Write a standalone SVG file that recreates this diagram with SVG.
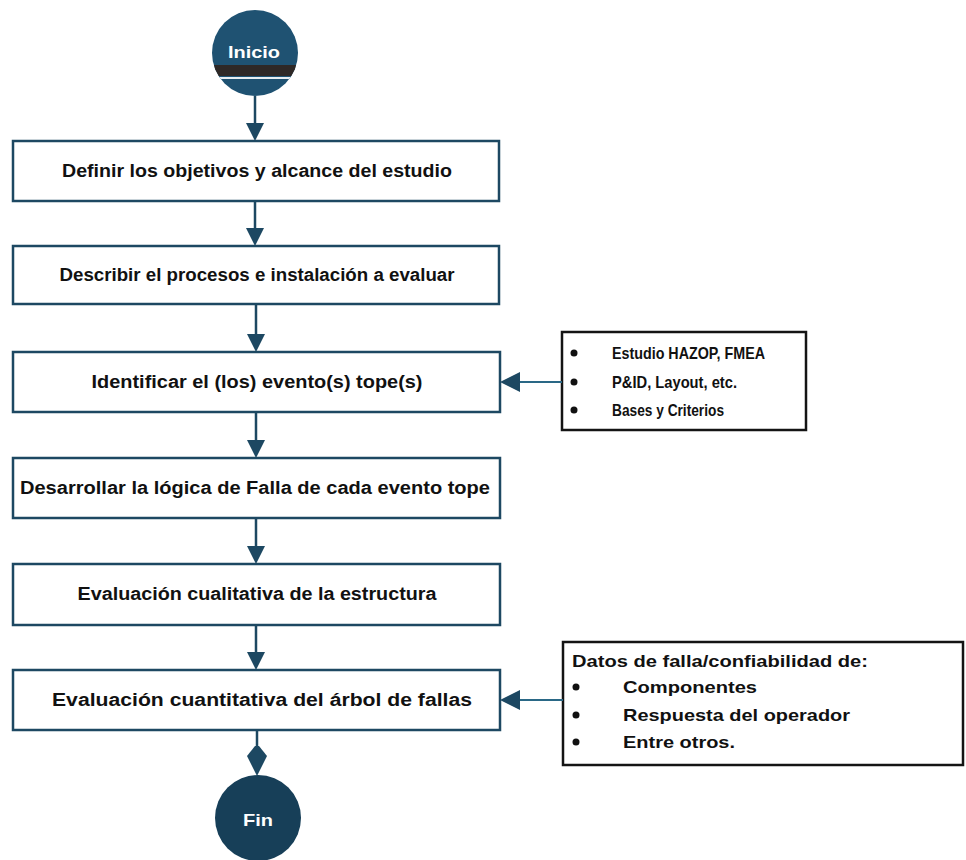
<svg xmlns="http://www.w3.org/2000/svg" width="966" height="860" viewBox="0 0 966 860">
  <style>
    .step rect { fill: #ffffff; stroke: #1d4862; stroke-width: 2.5; }
    .step text { font-family: "Liberation Sans", Arial, sans-serif; font-weight: bold; font-size: 18px; fill: #111111; text-anchor: middle; dominant-baseline: central; }
    .note rect { fill: #ffffff; stroke: #141414; stroke-width: 2.5; }
    .note text { font-family: "Liberation Sans", Arial, sans-serif; font-weight: bold; font-size: 17px; fill: #111111; dominant-baseline: central; }
    .note circle { fill: #111111; }
    .flow line { stroke: #1d4862; stroke-width: 2.5; }
    .flow .side { stroke: #2a6886; stroke-width: 2; }
    .flow polygon { fill: #1d4862; }
    .term text { font-family: "Liberation Sans", Arial, sans-serif; font-weight: bold; fill: #ffffff; text-anchor: middle; dominant-baseline: central; }
  </style>

  <rect x="0" y="0" width="966" height="860" fill="#ffffff"/>

  <!-- start terminal -->
  <g id="inicio" class="term">
    <clipPath id="inicioClip"><circle cx="255" cy="53" r="43"/></clipPath>
    <circle cx="255" cy="53" r="43" fill="#1f5272"/>
    <g clip-path="url(#inicioClip)">
      <rect x="200" y="65" width="110" height="11" fill="#2e2826"/>
      <rect x="200" y="77" width="110" height="2" fill="#e8eef2"/>
    </g>
    <text x="254" y="52" font-size="17" textLength="52" lengthAdjust="spacingAndGlyphs">Inicio</text>
  </g>

  <!-- process steps -->
  <g id="step1" class="step">
    <rect x="13" y="141" width="486" height="60"/>
    <text x="257" y="171" textLength="390" lengthAdjust="spacingAndGlyphs">Definir los objetivos y alcance del estudio</text>
  </g>
  <g id="step2" class="step">
    <rect x="13" y="246" width="486" height="58"/>
    <text x="257" y="275" textLength="395" lengthAdjust="spacingAndGlyphs">Describir el procesos e instalación a evaluar</text>
  </g>
  <g id="step3" class="step">
    <rect x="13" y="352" width="487" height="60"/>
    <text x="257" y="382" textLength="331" lengthAdjust="spacingAndGlyphs">Identificar el (los) evento(s) tope(s)</text>
  </g>
  <g id="step4" class="step">
    <rect x="13" y="458" width="487" height="60"/>
    <text x="255" y="488" textLength="470" lengthAdjust="spacingAndGlyphs">Desarrollar la lógica de Falla de cada evento tope</text>
  </g>
  <g id="step5" class="step">
    <rect x="13" y="564" width="487" height="61"/>
    <text x="257" y="594" textLength="359" lengthAdjust="spacingAndGlyphs">Evaluación cualitativa de la estructura</text>
  </g>
  <g id="step6" class="step">
    <rect x="13" y="670" width="487" height="60"/>
    <text x="262" y="700" textLength="420" lengthAdjust="spacingAndGlyphs">Evaluación cuantitativa del árbol de fallas</text>
  </g>

  <!-- input notes -->
  <g id="note-inputs" class="note">
    <rect x="562" y="332" width="244" height="98"/>
    <circle cx="574" cy="353" r="3.5"/>
    <circle cx="574" cy="382" r="3.5"/>
    <circle cx="574" cy="410" r="3.5"/>
    <text x="612" y="353" textLength="153" lengthAdjust="spacingAndGlyphs">Estudio HAZOP, FMEA</text>
    <text x="612" y="382" textLength="125" lengthAdjust="spacingAndGlyphs">P&amp;ID, Layout, etc.</text>
    <text x="612" y="410" textLength="112" lengthAdjust="spacingAndGlyphs">Bases y Criterios</text>
  </g>
  <g id="note-data" class="note">
    <rect x="563" y="642" width="400" height="123"/>
    <text x="572" y="661" textLength="296" lengthAdjust="spacingAndGlyphs">Datos de falla/confiabilidad de:</text>
    <circle cx="576" cy="687" r="3.5"/>
    <circle cx="576" cy="715" r="3.5"/>
    <circle cx="576" cy="742" r="3.5"/>
    <text x="623" y="687" textLength="134" lengthAdjust="spacingAndGlyphs">Componentes</text>
    <text x="623" y="715" textLength="227" lengthAdjust="spacingAndGlyphs">Respuesta del operador</text>
    <text x="623" y="742" textLength="112" lengthAdjust="spacingAndGlyphs">Entre otros.</text>
  </g>

  <!-- end terminal -->
  <g id="fin" class="term">
    <circle cx="258" cy="818" r="43" fill="#173f58"/>
    <text x="258" y="820" font-size="17" textLength="30" lengthAdjust="spacingAndGlyphs">Fin</text>
  </g>

  <!-- connectors -->
  <g id="connectors" class="flow">
    <line x1="255" y1="96" x2="255" y2="124"/>
    <polygon points="246,123 264,123 255,141"/>
    <line x1="255" y1="201" x2="255" y2="229"/>
    <polygon points="246,228 264,228 255,246"/>
    <line x1="256" y1="304" x2="256" y2="335"/>
    <polygon points="247,334 265,334 256,352"/>
    <line x1="256" y1="412" x2="256" y2="441"/>
    <polygon points="247,440 265,440 256,458"/>
    <line x1="256" y1="518" x2="256" y2="547"/>
    <polygon points="247,546 265,546 256,564"/>
    <line x1="256" y1="625" x2="256" y2="653"/>
    <polygon points="247,652 265,652 256,670"/>
    <line x1="257" y1="730" x2="257" y2="750"/>
    <polygon points="255,746 259,746 267,756 257,776 247,756"/>
    <line class="side" x1="562" y1="382" x2="518" y2="382"/>
    <polygon points="520,372 520,392 500,382"/>
    <line class="side" x1="563" y1="700" x2="518" y2="700"/>
    <polygon points="520,690 520,710 500,700"/>
  </g>
</svg>
